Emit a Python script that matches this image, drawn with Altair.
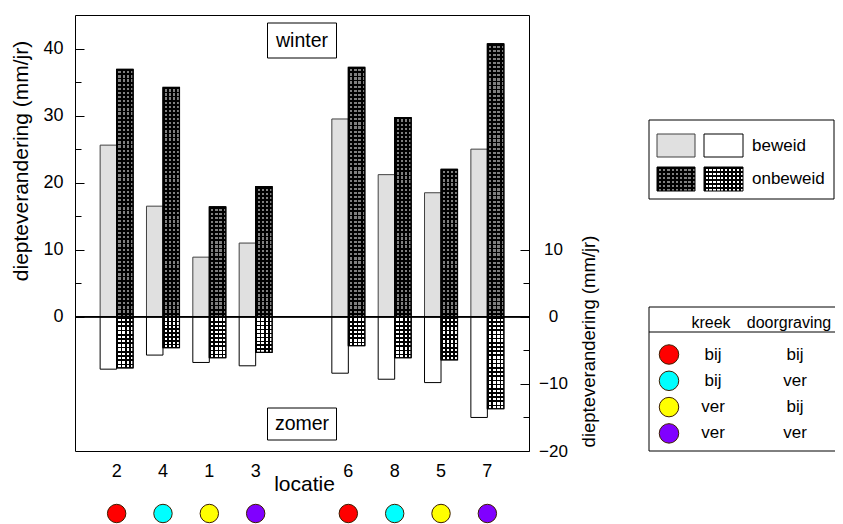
import altair as alt
import pandas as pd

# ---------------- data ----------------
locaties = ["2", "4", "1", "3", "6", "8", "5", "7"]
winter_beweid = [25.6, 16.5, 8.9, 11.0, 29.5, 21.2, 18.5, 25.0]
winter_onbeweid = [36.9, 34.2, 16.4, 19.4, 37.2, 29.7, 22.0, 40.7]
zomer_beweid = [-7.8, -5.7, -6.8, -7.3, -8.4, -9.3, -9.8, -15.0]
zomer_onbeweid = [-7.6, -4.6, -6.1, -5.3, -4.3, -6.1, -6.4, -13.7]
locatie_kleur = ["#ff0000", "#00ffff", "#ffff00", "#8000ff",
                 "#ff0000", "#00ffff", "#ffff00", "#8000ff"]

legend_kleur = ["#ff0000", "#00ffff", "#ffff00", "#8000ff"]
legend_kreek = ["bij", "bij", "ver", "ver"]
legend_doorgraving = ["bij", "ver", "bij", "ver"]

# ---------------- layout constants ----------------
W, H = 454, 436
Y_DOMAIN = [-20, 45]
PX_PER_UNIT = H / (Y_DOMAIN[1] - Y_DOMAIN[0])
PERIOD = 4.1
FRAC = {"winter": 0.45, "zomer": 0.4}
FONT = "Liberation Sans"
GAP = " "
x_domain = locaties[:4] + [GAP] + locaties[4:]

rows = []
for i, loc in enumerate(locaties):
    rows.append(dict(locatie=loc, type="beweid", season="winter", value=winter_beweid[i]))
    rows.append(dict(locatie=loc, type="onbeweid", season="winter", value=winter_onbeweid[i]))
    rows.append(dict(locatie=loc, type="beweid", season="zomer", value=zomer_beweid[i]))
    rows.append(dict(locatie=loc, type="onbeweid", season="zomer", value=zomer_onbeweid[i]))
bars = pd.DataFrame(rows)
bars["key"] = bars["season"] + "|" + bars["type"]
keys = ["winter|beweid", "winter|onbeweid", "zomer|beweid", "zomer|onbeweid"]
fills = ["#e0e0e0", "#7f7f7f", "#ffffff", "#ffffff"]
strokes = ["#404040", "#000000", "#000000", "#000000"]

circ = pd.DataFrame({"locatie": locaties, "kleur": locatie_kleur})
leg = pd.DataFrame({"kleur": legend_kleur, "kreek": legend_kreek,
                    "doorgraving": legend_doorgraving})
one = pd.DataFrame({"a": [0]})


def stripes(n, vertical_lines, frac=0.4):
    stops = []
    for i in range(n):
        a, b, c = i / n, (i + frac) / n, (i + 1) / n
        stops += [
            {"offset": round(a, 5), "color": "black"},
            {"offset": round(b, 5), "color": "black"},
            {"offset": round(b, 5), "color": "rgba(0,0,0,0)"},
            {"offset": round(c, 5), "color": "rgba(0,0,0,0)"},
        ]
    if vertical_lines:
        x1, y1, x2, y2 = 0, 0, 1, 0
    else:
        x1, y1, x2, y2 = 0, 0, 0, 1
    return {"gradient": "linear", "x1": x1, "y1": y1, "x2": x2, "y2": y2, "stops": stops}


x_scale = alt.Scale(domain=x_domain, paddingInner=0.288, paddingOuter=0.5425)
y_scale = alt.Scale(domain=Y_DOMAIN, nice=False, zero=False)
off_scale = alt.Scale(domain=["beweid", "onbeweid"], paddingInner=0, paddingOuter=0)

x_axis = alt.Axis(title="locatie", labelFontSize=18, labelPadding=11, ticks=False,
                  tickSize=0, domain=False, labelAngle=0, titleFontSize=21,
                  titleX=229, titleY=39, titleBaseline="alphabetic",
                  labelOverlap=False, grid=False)

x_enc = alt.X("locatie:N", scale=x_scale, axis=x_axis)
xo_enc = alt.XOffset("type:N", scale=off_scale)

axis_left = alt.Axis(orient="left", values=[0, 10, 20, 30, 40], ticks=False, tickSize=0,
                     domain=False, labelPadding=12, labelFontSize=18, grid=False,
                     title="diepteverandering (mm/jr)", titleFontSize=21,
                     titleX=-54, titleY=145.5, titleAngle=270, titleAlign="center",
                     titleBaseline="middle")
axis_right = alt.Axis(orient="right", values=[-20, -10, 0, 10], ticks=False, tickSize=0,
                      domain=False, labelPadding=24, labelAlign="center",
                      labelFontSize=17, grid=False,
                      title="diepteverandering (mm/jr)", titleFontSize=18.5,
                      titleX=59, titleY=326, titleAngle=270, titleAlign="center",
                      titleBaseline="middle")
tick_size = {"condition": {"test": "datum.value % 10 === 0", "value": 9}, "value": 6}
axis_ticks_left = alt.Axis(orient="right", offset=-W, values=list(range(0, 45, 5)),
                           labels=False, domain=False, ticks=True, tickSize=tick_size,
                           tickColor="black", tickWidth=1, title=None, grid=False)
axis_ticks_right = alt.Axis(orient="left", offset=-W, values=list(range(-20, 15, 5)),
                            labels=False, domain=False, ticks=True, tickSize=tick_size,
                            tickColor="black", tickWidth=1, title=None, grid=False)

layers = []

# base bars
layers.append(
    alt.Chart(bars).mark_bar(strokeWidth=1).encode(
        x=x_enc, xOffset=xo_enc,
        y=alt.Y("value:Q", scale=y_scale, axis=axis_left),
        y2=alt.datum(0),
        fill=alt.Fill("key:N", scale=alt.Scale(domain=keys, range=fills), legend=None),
        stroke=alt.Stroke("key:N", scale=alt.Scale(domain=keys, range=strokes), legend=None),
    )
)

# cross-hatch: vertical lines
for season in ("winter", "zomer"):
    layers.append(
        alt.Chart(bars).transform_filter(
            f"datum.type == 'onbeweid' && datum.season == '{season}'")
        .mark_bar(fill=stripes(4, True, FRAC[season]), strokeWidth=0).encode(
            x=x_enc, xOffset=xo_enc,
            y=alt.Y("value:Q", scale=y_scale, axis=None), y2=alt.datum(0))
    )
# cross-hatch: horizontal lines, one per bar
for i, loc in enumerate(locaties):
    for season, vals in (("winter", winter_onbeweid), ("zomer", zomer_onbeweid)):
        n = max(1, round(abs(vals[i]) * PX_PER_UNIT / PERIOD))
        layers.append(
            alt.Chart(bars).transform_filter(
                f"datum.locatie == '{loc}' && datum.season == '{season}' && datum.type == 'onbeweid'")
            .mark_bar(fill=stripes(n, False, FRAC[season]), strokeWidth=0).encode(
                x=x_enc, xOffset=xo_enc,
                y=alt.Y("value:Q", scale=y_scale, axis=None), y2=alt.datum(0))
        )
# outline of hatched bars
layers.append(
    alt.Chart(bars).transform_filter("datum.type == 'onbeweid'")
    .mark_bar(fillOpacity=0, stroke="black", strokeWidth=1.2).encode(
        x=x_enc, xOffset=xo_enc,
        y=alt.Y("value:Q", scale=y_scale, axis=None), y2=alt.datum(0))
)

# zero line (+ axes)
for ax in (axis_right, axis_ticks_left, axis_ticks_right):
    layers.append(
        alt.Chart(one).mark_rule(color="black", strokeWidth=1.5).encode(
            y=alt.Y(datum=0, type="quantitative", scale=y_scale, axis=ax))
    )

# winter / zomer boxes
for label, y0, y1, yt in (("winter", 8, 43, 26), ("zomer", 393, 425, 409)):
    layers.append(
        alt.Chart(one).mark_bar(width=69, fill="white", stroke="black", strokeWidth=1).encode(
            x=alt.X(datum=GAP, type="nominal", scale=x_scale, axis=x_axis),
            y=alt.value(y0), y2=alt.value(y1))
    )
    layers.append(
        alt.Chart(one).mark_text(text=label, fontSize=19.5, align="center",
                                 baseline="middle", color="black").encode(
            x=alt.X(datum=GAP, type="nominal", scale=x_scale, axis=x_axis),
            y=alt.value(yt))
    )

# coloured circles under the x axis
layers.append(
    alt.Chart(circ).mark_circle(size=340, opacity=1, stroke="#3c1e00", strokeWidth=1).encode(
        x=x_enc, y=alt.value(498.5), fill=alt.Fill("kleur:N", scale=None))
)

# ---------------- legend 1 (beweid / onbeweid) ----------------
layers.append(alt.Chart(one).mark_rect(fill="white", stroke="black", strokeWidth=1).encode(
    x=alt.value(574), x2=alt.value(759), y=alt.value(105), y2=alt.value(184)))
sw = [
    (582, 620, 119, 142, "#e0e0e0", "#404040", None),
    (629, 668, 119, 142, "#ffffff", "#000000", None),
    (582, 620, 152, 176, "#7f7f7f", "#000000", "winter"),
    (629, 668, 152, 176, "#ffffff", "#000000", "zomer"),
]
for x0, x1, y0, y1, f, s, hatch in sw:
    enc = dict(x=alt.value(x0), x2=alt.value(x1), y=alt.value(y0), y2=alt.value(y1))
    layers.append(alt.Chart(one).mark_rect(fill=f, strokeWidth=0).encode(**enc))
    if hatch:
        nx = max(1, round((x1 - x0) / PERIOD))
        ny = max(1, round((y1 - y0) / PERIOD))
        layers.append(alt.Chart(one).mark_rect(fill=stripes(nx, True, FRAC[hatch]),
                                               strokeWidth=0).encode(**enc))
        layers.append(alt.Chart(one).mark_rect(fill=stripes(ny, False, FRAC[hatch]),
                                               strokeWidth=0).encode(**enc))
    layers.append(alt.Chart(one).mark_rect(fillOpacity=0, stroke=s, strokeWidth=1).encode(**enc))
for txt, yt in (("beweid", 131), ("onbeweid", 164)):
    layers.append(alt.Chart(one).mark_text(text=txt, fontSize=17, align="left",
                                           baseline="middle", color="black").encode(
        x=alt.value(677), y=alt.value(yt)))

# ---------------- legend 2 (kreek / doorgraving) ----------------
layers.append(alt.Chart(one).mark_rect(fill="white", stroke="black", strokeWidth=1).encode(
    x=alt.value(574), x2=alt.value(800), y=alt.value(292), y2=alt.value(436)))
layers.append(alt.Chart(one).mark_rule(color="black", strokeWidth=1).encode(
    x=alt.value(574), x2=alt.value(800), y=alt.value(317)))
for txt, xt in (("kreek", 636), ("doorgraving", 714)):
    layers.append(alt.Chart(one).mark_text(text=txt, fontSize=16, align="center",
                                           baseline="middle", color="black").encode(
        x=alt.value(xt), y=alt.value(308)))

leg_base = alt.Chart(leg).transform_window(rij="row_number()").transform_calculate(
    py="339.5 + (datum.rij - 1) * 26.3")
layers.append(leg_base.mark_circle(size=380, opacity=1, stroke="#3c1e00", strokeWidth=1).encode(
    x=alt.value(594), y=alt.Y("py:Q", scale=None, axis=None),
    fill=alt.Fill("kleur:N", scale=None)))
for col, xt in (("kreek", 638), ("doorgraving", 720)):
    layers.append(leg_base.mark_text(fontSize=17, align="center", baseline="middle",
                                     color="black").encode(
        x=alt.value(xt), y=alt.Y("py:Q", scale=None, axis=None), text=f"{col}:N"))

chart = (
    alt.layer(*layers)
    .resolve_axis(y="independent")
    .properties(width=W, height=H, autosize=alt.AutoSizeParams(type="none"),
                padding={"left": 67, "top": 7, "right": 306, "bottom": 73})
    .configure(font=FONT)
    .configure_view(stroke="black", strokeWidth=1)
    .configure_axis(labelColor="black", titleColor="black", titleFontWeight="normal",
                    labelFont=FONT, titleFont=FONT)
    .configure_text(font=FONT)
)

chart.save("out.html", embed_options={"renderer": "svg", "actions": False})
